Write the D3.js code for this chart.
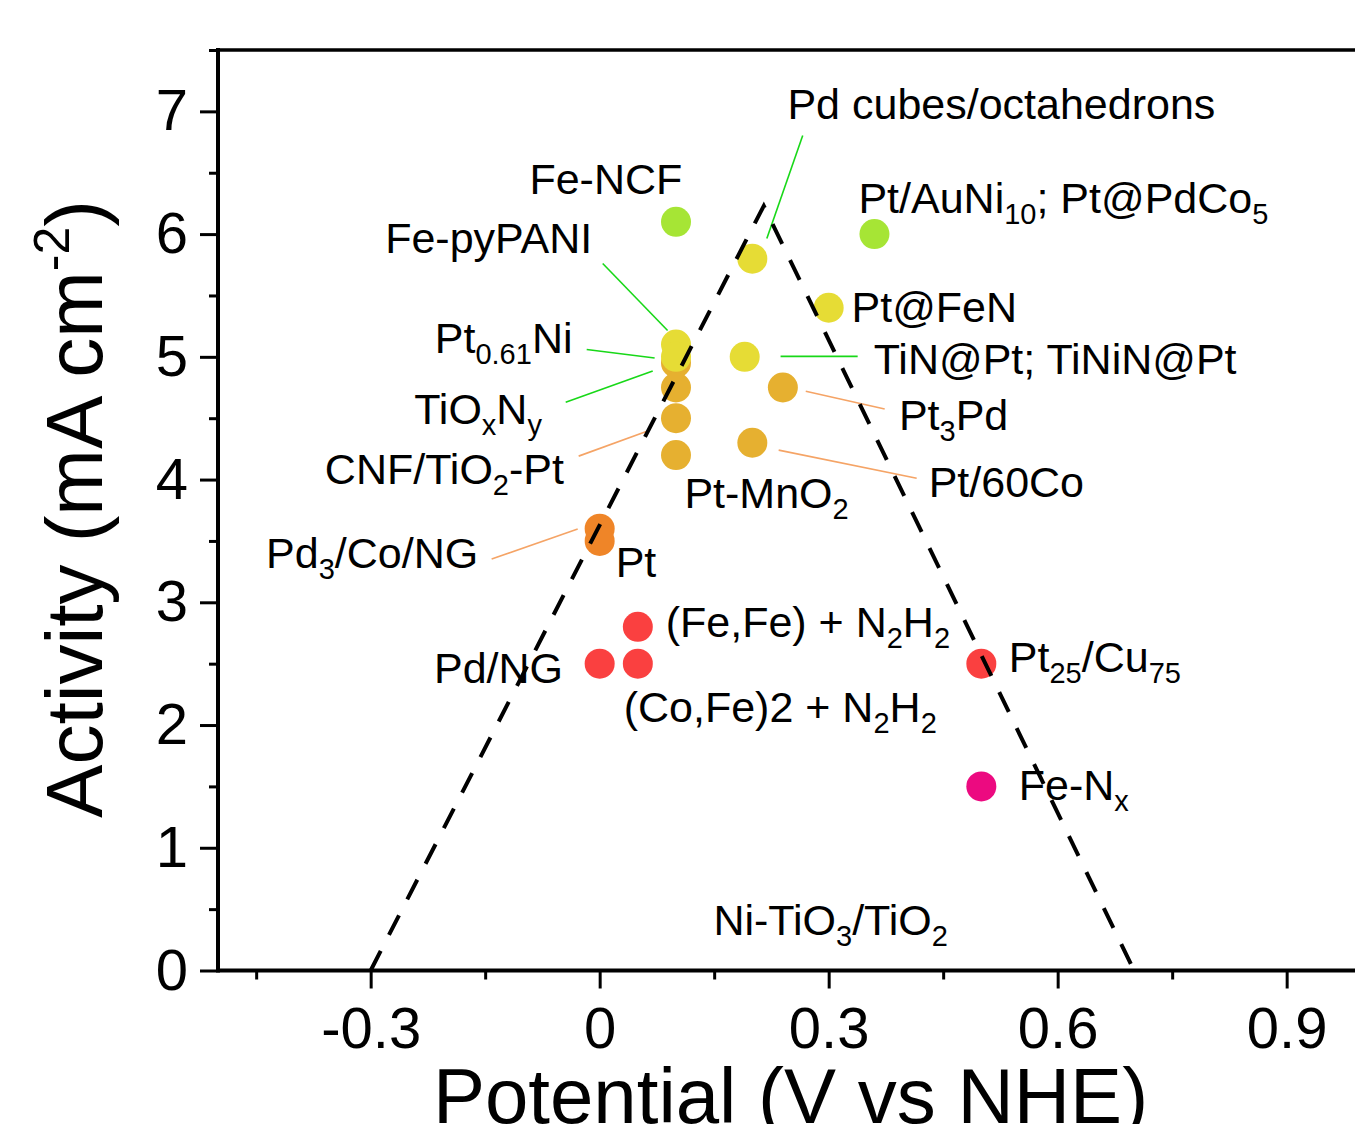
<!DOCTYPE html>
<html>
<head>
<meta charset="utf-8">
<script src="https://cdn.jsdelivr.net/npm/d3@7"></script>
<style>
  body { margin: 0; background: #fff; }
  svg { display: block; font-family: Arial, "Liberation Sans", sans-serif; }
</style>
</head>
<body>
<svg width="1355" height="1124"></svg>
<script>
// data points: potential (V vs NHE), activity (mA cm-2), colour group
const potential = [0.1, 0.36, 0.2, 0.3, 0.1, 0.1, 0.19, 0.1, 0.1, 0.1, 0.1, 0.24, 0.2, 0, 0, 0.05, 0, 0.05, 0.5, 0.5];
const activity  = [6.1, 6.0, 5.8, 5.4, 5.1, 5.0, 5.0, 4.95, 4.75, 4.5, 4.2, 4.75, 4.3, 3.6, 3.5, 2.8, 2.5, 2.5, 2.5, 1.5];
const group     = ['lime', 'lime', 'yellow', 'yellow', 'yellow', 'yellow', 'yellow', 'gold', 'gold', 'gold', 'gold', 'gold', 'gold',
                   'orange', 'orange', 'red', 'red', 'red', 'red', 'magenta'];

// volcano guide line (dashed triangle)
const volcanoX = [-0.3, 0.215, 0.7];
const volcanoY = [0, 6.23, 0];

// tick values
const xMajor = [-0.3, 0, 0.3, 0.6, 0.9];
const xMinor = [-0.45, -0.15, 0.15, 0.45, 0.75];
const yMajor = [0, 1, 2, 3, 4, 5, 6, 7];
const yMinor = [0.5, 1.5, 2.5, 3.5, 4.5, 5.5, 6.5, 7.5];

// annotation labels (anchor in data units)
const labelText = ['Pd cubes/octahedrons', 'Fe-NCF', 'Pt/AuNi_{10}; Pt@PdCo_{5}', 'Fe-pyPANI', 'Pt@FeN',
  'Pt_{0.61}Ni', 'TiN@Pt; TiNiN@Pt', 'TiO_{x}N_{y}', 'Pt_{3}Pd', 'CNF/TiO_{2}-Pt', 'Pt/60Co', 'Pt-MnO_{2}',
  'Pd_{3}/Co/NG', 'Pt', '(Fe,Fe) + N_{2}H_{2}', 'Pd/NG', '(Co,Fe)2 + N_{2}H_{2}', 'Pt_{25}/Cu_{75}', 'Fe-N_{x}',
  'Ni-TiO_{3}/TiO_{2}'];
const labelX = [0.246, -0.092, 0.339, -0.281, 0.330, -0.216, 0.359, -0.243, 0.392, -0.360, 0.431, 0.111,
  -0.437, 0.021, 0.0865, -0.217, 0.0315, 0.536, 0.549, 0.149];
const labelY = [6.935, 6.33, 6.17, 5.85, 5.28, 5.03, 4.86, 4.45, 4.40, 3.96, 3.86, 3.77,
  3.28, 3.21, 2.72, 2.345, 2.025, 2.435, 1.39, 0.29];

// leader lines
const leadX1 = [0.219, 0.004, -0.017, -0.0445, 0.237, -0.0275, -0.1415, 0.27, 0.2345];
const leadY1 = [5.965, 5.76, 5.06, 4.63, 5.004, 4.191, 3.352, 4.72, 4.24];
const leadX2 = [0.266, 0.089, 0.072, 0.0695, 0.338, 0.0629, -0.0288, 0.3734, 0.4153];
const leadY2 = [6.804, 5.215, 4.99, 4.885, 5.004, 4.395, 3.597, 4.575, 4.01];
const leadGroup = ['green', 'green', 'green', 'green', 'green', 'orange', 'orange', 'orange', 'orange'];

const colors = {
  lime: '#a6e535', yellow: '#e6dc35', gold: '#e6b030',
  orange: '#ef8528', red: '#fa4040', magenta: '#ec0a80'
};
const leadColors = { green: '#18d818', orange: '#f5a466' };
const drawOrder = ['red', 'orange', 'gold', 'yellow', 'lime', 'magenta'];

const svg = d3.select('svg');

const x = d3.scaleLinear().domain([-0.5, 1.0]).range([218, 1363]);
const y = d3.scaleLinear().domain([0, 7.5]).range([970.5, 50]);

// writes text with _{sub} and ^{sup} parts as tspans
const richText = (text, str, size, subSize, subShift, supShift) => {
  const re = /([_^])\{([^}]*)\}/g;
  const parts = [];
  let last = 0, m;
  while ((m = re.exec(str))) {
    if (m.index > last) parts.push({ t: str.slice(last, m.index), mode: null });
    parts.push({ t: m[2], mode: m[1] });
    last = re.lastIndex;
  }
  if (last < str.length) parts.push({ t: str.slice(last), mode: null });
  let cur = 0;
  parts.forEach(p => {
    const target = p.mode === '_' ? subShift : p.mode === '^' ? -supShift : 0;
    text.append('tspan')
      .attr('dy', target - cur)
      .attr('font-size', p.mode ? subSize : size)
      .text(p.t);
    cur = target;
  });
};

// frame top
svg.append('line')
  .attr('x1', 218).attr('x2', 1363).attr('y1', 50).attr('y2', 50)
  .attr('stroke', '#000').attr('stroke-width', 3.5);

// minor ticks
const xMinorG = svg.append('g')
  .attr('transform', `translate(0,${y(0)})`)
  .call(d3.axisBottom(x).tickValues(xMinor).tickSize(9).tickFormat(''));
const yMinorG = svg.append('g')
  .attr('transform', `translate(${x(-0.5)},0)`)
  .call(d3.axisLeft(y).tickValues(yMinor).tickSize(9).tickFormat(''));

// major axes
const xAxisG = svg.append('g')
  .attr('transform', `translate(0,${y(0)})`)
  .call(d3.axisBottom(x).tickValues(xMajor).tickSize(18).tickSizeOuter(0).tickPadding(18)
    .tickFormat(d => d === 0 ? '0' : d3.format('.1f')(d).replace('−', '-')));
const yAxisG = svg.append('g')
  .attr('transform', `translate(${x(-0.5)},0)`)
  .call(d3.axisLeft(y).tickValues(yMajor).tickSize(18).tickSizeOuter(0).tickPadding(12)
    .tickFormat(d3.format('d')));

[xMinorG, yMinorG, xAxisG, yAxisG].forEach(g => {
  g.selectAll('.domain').remove();
  g.selectAll('.tick line').attr('stroke', '#000').attr('stroke-width', 3);
  g.selectAll('.tick text').attr('font-size', 58).attr('fill', '#000')
    .attr('font-family', 'Arial, "Liberation Sans", sans-serif');
});

// axis lines
svg.append('line')
  .attr('x1', x(-0.5)).attr('x2', 1363).attr('y1', y(0)).attr('y2', y(0))
  .attr('stroke', '#000').attr('stroke-width', 4);
svg.append('line')
  .attr('x1', x(-0.5)).attr('x2', x(-0.5)).attr('y1', 48).attr('y2', y(0) + 2)
  .attr('stroke', '#000').attr('stroke-width', 4);

// axis titles
const xTitle = svg.append('text')
  .attr('x', (x(-0.5) + 1363) / 2).attr('y', 1123)
  .attr('text-anchor', 'middle').attr('font-size', 78);
richText(xTitle, 'Potential (V vs NHE)', 78, 50, 0, 0);

const yTitle = svg.append('text')
  .attr('transform', 'translate(102,509) rotate(-90)')
  .attr('text-anchor', 'middle').attr('font-size', 80);
richText(yTitle, 'Activity (mA cm^{-2})', 80, 50, 0, 33);

// leader lines
svg.append('g').selectAll('line').data(leadX1)
  .enter().append('line')
    .attr('x1', (d, i) => x(leadX1[i]))
    .attr('y1', (d, i) => y(leadY1[i]))
    .attr('x2', (d, i) => x(leadX2[i]))
    .attr('y2', (d, i) => y(leadY2[i]))
    .attr('stroke', (d, i) => leadColors[leadGroup[i]])
    .attr('stroke-width', 1.6);

// points
const points = potential.map((p, i) => ({ p, a: activity[i], g: group[i] }))
  .sort((a, b) => drawOrder.indexOf(a.g) - drawOrder.indexOf(b.g));
svg.append('g').selectAll('circle').data(points)
  .enter().append('circle')
    .attr('cx', d => x(d.p))
    .attr('cy', d => y(d.a))
    .attr('r', 15)
    .attr('fill', d => colors[d.g]);

// labels
const labelsG = svg.append('g').attr('font-size', 43).attr('fill', '#000');
labelText.forEach((t, i) => {
  const txt = labelsG.append('text')
    .attr('x', x(labelX[i]))
    .attr('y', y(labelY[i]));
  richText(txt, t, 43, 29, 11, 14);
});

// dashed volcano line on top
const line = d3.line().x(d => x(d[0])).y(d => y(d[1]));
svg.append('path')
  .datum(volcanoX.map((v, i) => [v, volcanoY[i]]))
  .attr('d', line)
  .attr('fill', 'none')
  .attr('stroke', '#000')
  .attr('stroke-width', 4)
  .attr('stroke-dasharray', '22,18');
</script>
</body>
</html>
